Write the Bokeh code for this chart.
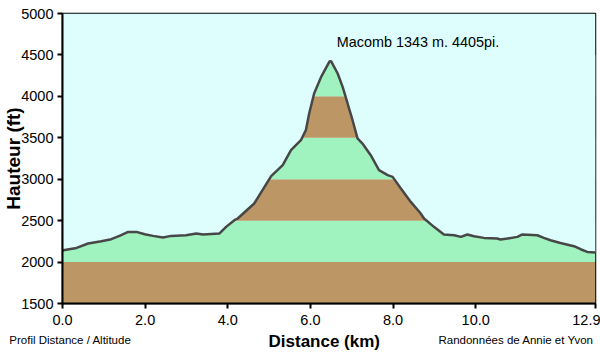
from bokeh.plotting import figure
from bokeh.models import Range1d, FixedTicker, NumeralTickFormatter, Label, LinearAxis
from bokeh.embed import file_html
from bokeh.resources import INLINE

# Profile data (km, ft)
dist = [0.0, 0.02, 0.34, 0.62, 0.94, 1.18, 1.38, 1.59, 1.79, 1.99, 2.19, 2.43,
        2.63, 2.99, 3.24, 3.40, 3.80, 3.96, 4.16, 4.24, 4.64, 5.05, 5.33, 5.53,
        5.77, 5.89, 5.97, 6.09, 6.26, 6.46, 6.50, 6.66, 6.78, 6.90, 7.02, 7.14,
        7.26, 7.46, 7.66, 7.87, 7.99, 8.19, 8.43, 8.67, 8.75, 8.99, 9.23, 9.48,
        9.64, 9.80, 9.96, 10.20, 10.52, 10.60, 10.77, 11.01, 11.13, 11.49, 11.65,
        11.81, 12.05, 12.38, 12.54, 12.70, 12.90]
alt = [2130, 2143, 2171, 2224, 2252, 2276, 2316, 2364, 2364, 2336, 2316, 2297,
       2316, 2324, 2345, 2333, 2345, 2425, 2505, 2526, 2707, 3037, 3169, 3350,
       3471, 3592, 3793, 4035, 4235, 4420, 4425, 4276, 4114, 3914, 3712, 3492,
       3431, 3290, 3109, 3049, 3028, 2888, 2726, 2586, 2526, 2425, 2333, 2324,
       2304, 2333, 2312, 2292, 2284, 2272, 2284, 2304, 2333, 2324, 2292,
       2264, 2231, 2192, 2155, 2123, 2115]

band_bottom = [1500, 2000, 2500, 3000, 3500, 4000]
band_top = [2000, 2500, 3000, 3500, 4000, 4500]
band_color = ["#BD9665", "#A0F3BF", "#BD9665", "#A0F3BF", "#BD9665", "#A0F3BF"]

x_ticks = [0, 2, 4, 6, 8, 10, 12.9]
y_ticks = [1500, 2000, 2500, 3000, 3500, 4000, 4500, 5000]

title_peak = "Macomb 1343 m. 4405pi."
x_label = "Distance   (km)"
y_label = "Hauteur (ft)"
note_left = "Profil  Distance / Altitude"
note_right = "Randonnées de Annie et Yvon"
note_pos = [0.23, 10.98]  # km under which each note is centred

BG = "#DEFEFE"
FONT = "Liberation Sans"

p = figure(width=600, height=354, x_range=Range1d(0, 12.9), y_range=Range1d(1500, 5000),
           output_backend="svg", toolbar_location=None,
           min_border_left=61, min_border_right=5, min_border_top=13, min_border_bottom=51)
p.background_fill_color = BG
p.border_fill_color = "white"
p.outline_line_color = "black"
p.outline_line_width = 1.5
p.grid.visible = False

p.quad(left=0, right=12.9, bottom=band_bottom, top=band_top, fill_color=band_color,
       line_color=None)
p.varea(x=dist, y1=alt, y2=5000, fill_color=BG)
p.line(dist, alt, line_color="#474747", line_width=2.5)

for ax in (p.xaxis[0], p.yaxis[0]):
    ax.axis_line_width = 2
    ax.axis_line_color = "black"
    ax.major_tick_line_width = 2
    ax.major_tick_line_color = "black"
    ax.major_tick_out = 5
    ax.major_tick_in = 0
    ax.minor_tick_line_color = None
    ax.major_label_text_font = FONT
    ax.major_label_text_font_size = "14.5px"
    ax.major_label_text_color = "black"
    ax.axis_label_text_font = FONT
    ax.axis_label_text_font_style = "bold"
    ax.axis_label_text_color = "black"

p.xaxis.ticker = FixedTicker(ticks=x_ticks)
p.xaxis.formatter = NumeralTickFormatter(format="0.0")
p.xaxis.major_label_standoff = 6

p.yaxis.ticker = FixedTicker(ticks=y_ticks)
p.yaxis.major_label_standoff = 4
p.yaxis.axis_label = y_label
p.yaxis.axis_label_text_font_size = "19px"
p.yaxis.axis_label_standoff = -6

# second, line-less axis below carrying the footer notes and the x title
notes_axis = LinearAxis(ticker=FixedTicker(ticks=note_pos),
                        major_label_overrides={note_pos[0]: note_left,
                                               note_pos[1]: note_right},
                        axis_line_color=None, major_tick_line_color=None,
                        minor_tick_line_color=None, major_tick_out=0, major_tick_in=0,
                        major_label_standoff=6, major_label_text_font=FONT,
                        major_label_text_font_size="11.5px", major_label_text_color="black",
                        axis_label=x_label, axis_label_text_font=FONT,
                        axis_label_text_font_size="17px", axis_label_text_font_style="bold",
                        axis_label_text_color="black", axis_label_standoff=-17)
p.add_layout(notes_axis, "below")

p.add_layout(Label(x=6.64, y=4655, text=title_peak, text_font=FONT,
                   text_font_size="14.4px", text_baseline="middle", text_align="left",
                   text_color="black"))

open("out.html", "w").write(file_html(p, INLINE))
